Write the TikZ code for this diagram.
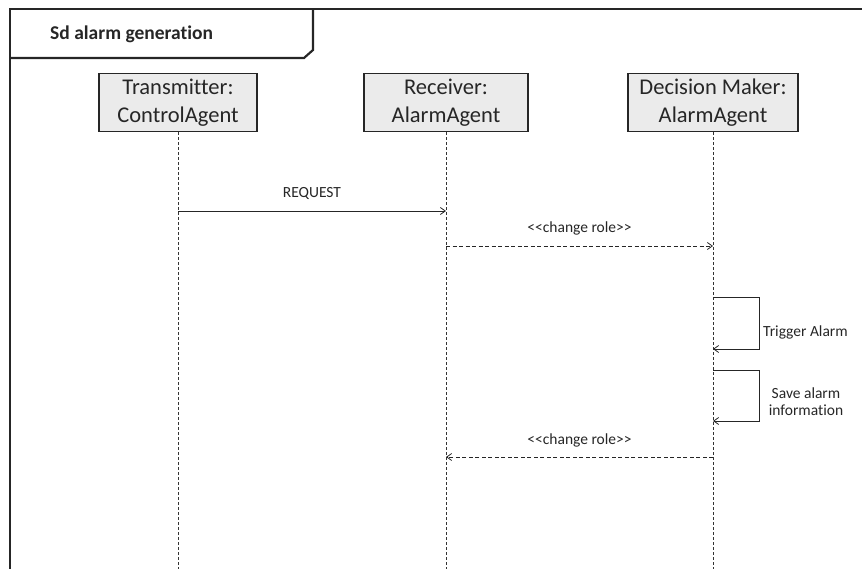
\documentclass[tikz,border=0pt]{standalone}
\usepackage{fontspec}
\setmainfont{Carlito}[Ligatures={NoCommon}]
\usetikzlibrary{arrows.meta}
\begin{document}
\begin{tikzpicture}[x=1pt,y=-1pt,
  lifebox/.style={draw=black!85,line width=1.9pt,fill=black!8,minimum width=158pt,minimum height=58pt,align=center,font=\fontsize{22.5}{28}\selectfont,inner sep=0pt,text=black!85},
  lifeline/.style={draw=black!80,line width=0.7pt,dash pattern=on 3pt off 2pt},
  msg/.style={draw=black!85,line width=0.8pt,-{Straight Barb[length=5pt,width=7pt]}},
  dmsg/.style={msg,dash pattern=on 4pt off 2.5pt},
  lbl/.style={font=\fontsize{15.5}{17}\selectfont,text=black!85,inner sep=0pt,align=center},
  mlbl/.style={lbl,midway,anchor=base,yshift=13pt},
  framel/.style={draw=black!85,line width=2.2pt}
]
\useasboundingbox (0,0) rectangle (862,569);
% frame
\coordinate (fTL) at (10,9);
\coordinate (fTR) at (862,9);
\coordinate (fBL) at (10,569);
\draw[framel] (fBL) -- (fTL) -- (fTR);
\coordinate (tabBR) at (313,50);
\coordinate (tabB) at (304,58);
\coordinate (tabL) at (10,58);
\coordinate (tabT) at (313,9);
\draw[framel] (tabT) -- (tabBR) -- (tabB) -- (tabL);
\node[anchor=base west,font=\fontsize{19.5}{22}\selectfont\bfseries,text=black!85,inner sep=0pt] (title) at (50,40) {Sd alarm generation};
% lifeline heads
\node[lifebox] (tx) at (178,102.5) {Transmitter:\\ControlAgent};
\node[lifebox,minimum width=164pt] (rx) at (446,102.5) {Receiver:\\AlarmAgent};
\node[lifebox,minimum width=170pt] (dm) at (713,102.5) {Decision Maker:\\AlarmAgent};
\coordinate (txEnd) at (178,569);
\coordinate (rxEnd) at (446,569);
\coordinate (dmEnd) at (713,569);
\draw[lifeline] (tx.south) -- (txEnd);
\draw[lifeline] (rx.south) -- (rxEnd);
\draw[lifeline] (dm.south) -- (dmEnd);
% REQUEST
\coordinate (m1a) at (178,211);
\coordinate (m1b) at (446,211);
\draw[msg] (m1a) -- node[mlbl] (l1) {REQUEST} (m1b);
% change role
\coordinate (m2a) at (446,246);
\coordinate (m2b) at (713,246);
\draw[dmsg] (m2a) -- node[mlbl] (l2) {<{}<change role>{}>} (m2b);
% Trigger alarm
\coordinate (s1a) at (713,297);
\coordinate (s1r) at (759,297);
\coordinate (s1e) at (713,349);
\draw[msg] (s1a) -- (s1r) |- (s1e);
\node[lbl,anchor=base west] (l3) at (763,336) {Trigger Alarm};
% Save alarm information
\coordinate (s2a) at (713,370);
\coordinate (s2r) at (759,370);
\coordinate (s2e) at (713,421);
\draw[msg] (s2a) -- (s2r) |- (s2e);
\node[lbl,anchor=base] (l4) at (806,398) {Save alarm};
\node[lbl,anchor=base] (l4b) at (806,415) {information};
% change role back
\coordinate (m3a) at (713,457);
\coordinate (m3b) at (446,457);
\draw[dmsg] (m3a) -- node[mlbl] (l5) {<{}<change role>{}>} (m3b);
\end{tikzpicture}
\end{document}
